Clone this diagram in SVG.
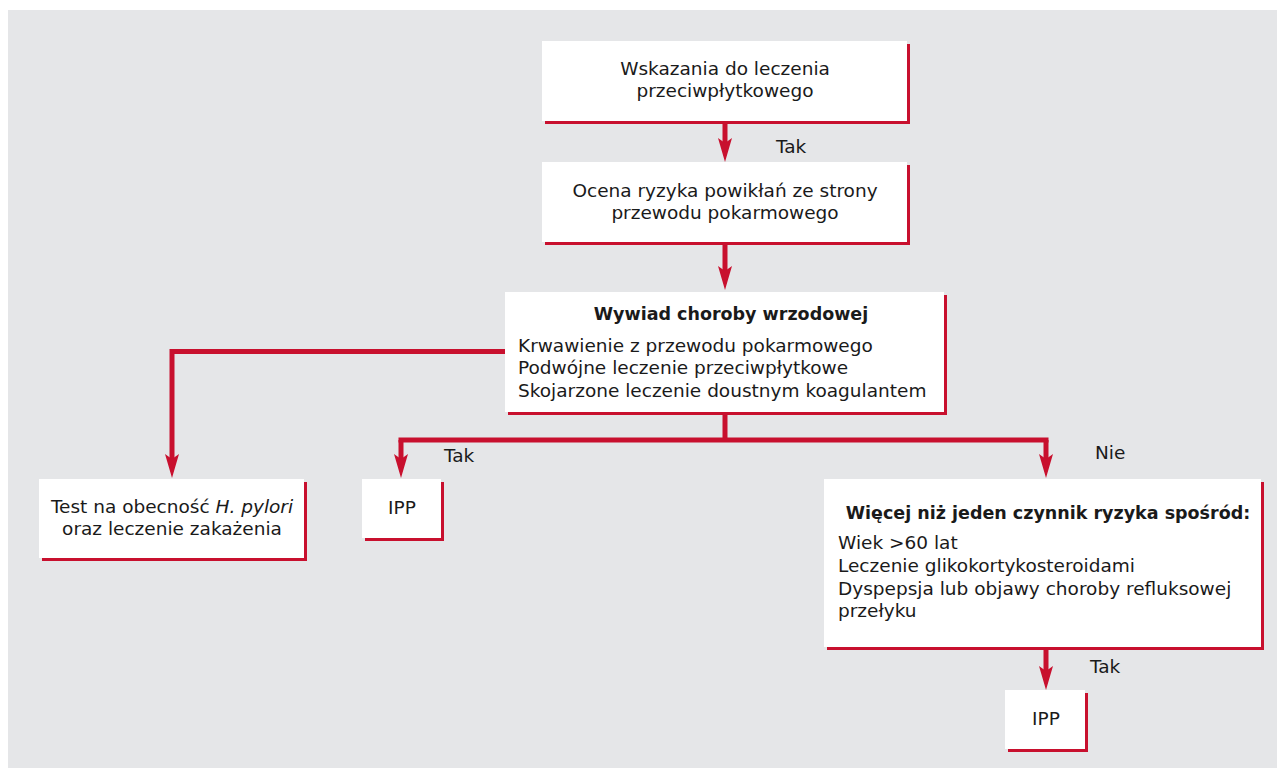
<svg xmlns="http://www.w3.org/2000/svg" width="1277" height="768" viewBox="0 0 1277 768">
<style>
.bg{fill:#e5e6e8}
.sh{fill:#c8102e}
.bx{fill:#ffffff}
.t{font-family:"DejaVu Sans","Open Sans","Liberation Sans",sans-serif;font-size:18.5px;fill:#1a1a1a}
.b{font-weight:bold;font-size:17.5px}
.c{text-anchor:middle}
.ln{fill:none;stroke:#c8102e;stroke-width:5}
</style>
<defs>
<marker id="ah" viewBox="0 0 24 14" refX="14" refY="7" markerWidth="24" markerHeight="14" markerUnits="userSpaceOnUse" orient="auto">
<path d="M0,0 L24,7 L0,14 L5,7 Z" fill="#c8102e"/>
</marker>
</defs>
<rect class="bg" x="8" y="10" width="1269" height="758"/>
<g id="connectors">
<path class="ln" d="M725,121 V152" marker-end="url(#ah)"/>
<path class="ln" d="M725,242 V280" marker-end="url(#ah)"/>
<path class="ln" d="M505,351.5 H172 V468" marker-end="url(#ah)"/>
<path class="ln" d="M725,412 V440"/>
<path class="ln" d="M398.5,440 H1048.5"/>
<path class="ln" d="M401,440 V468" marker-end="url(#ah)"/>
<path class="ln" d="M1046,440 V468" marker-end="url(#ah)"/>
<path class="ln" d="M1046,647 V680" marker-end="url(#ah)"/>
<text class="t" x="776" y="153">Tak</text>
<text class="t" x="444" y="462">Tak</text>
<text class="t" x="1095" y="459">Nie</text>
<text class="t" x="1090" y="673">Tak</text>
</g>
<g id="n1">
<rect class="sh" x="545" y="44" width="365" height="80"/>
<rect class="bx" x="542" y="41" width="365" height="80"/>
<text class="t c" x="725" y="75">Wskazania do leczenia</text>
<text class="t c" x="725" y="97">przeciwpłytkowego</text>
</g>
<g id="n2">
<rect class="sh" x="545" y="165" width="365" height="80"/>
<rect class="bx" x="542" y="162" width="365" height="80"/>
<text class="t c" x="725" y="197">Ocena ryzyka powikłań ze strony</text>
<text class="t c" x="725" y="219">przewodu pokarmowego</text>
</g>
<g id="n3">
<rect class="sh" x="508" y="295" width="439" height="120"/>
<rect class="bx" x="505" y="292" width="439" height="120"/>
<text class="t b c" x="731" y="320">Wywiad choroby wrzodowej</text>
<text class="t" x="518" y="352">Krwawienie z przewodu pokarmowego</text>
<text class="t" x="518" y="374">Podwójne leczenie przeciwpłytkowe</text>
<text class="t" x="518" y="397">Skojarzone leczenie doustnym koagulantem</text>
</g>
<g id="n4">
<rect class="sh" x="42" y="482" width="265" height="79"/>
<rect class="bx" x="39" y="479" width="265" height="79"/>
<text class="t c" x="172" y="513">Test na obecność <tspan font-style="italic">H. pylori</tspan></text>
<text class="t c" x="172" y="535">oraz leczenie zakażenia</text>
</g>
<g id="n5">
<rect class="sh" x="365" y="482" width="79" height="59"/>
<rect class="bx" x="362" y="479" width="79" height="59"/>
<text class="t c" x="402" y="514">IPP</text>
</g>
<g id="n6">
<rect class="sh" x="827" y="482" width="437" height="168"/>
<rect class="bx" x="824" y="479" width="437" height="168"/>
<text class="t b c" x="1048" y="519">Więcej niż jeden czynnik ryzyka spośród:</text>
<text class="t" x="838" y="549">Wiek &gt;60 lat</text>
<text class="t" x="838" y="572">Leczenie glikokortykosteroidami</text>
<text class="t" x="838" y="595">Dyspepsja lub objawy choroby refluksowej</text>
<text class="t" x="838" y="617">przełyku</text>
</g>
<g id="n7">
<rect class="sh" x="1008" y="693" width="80" height="59"/>
<rect class="bx" x="1005" y="690" width="80" height="59"/>
<text class="t c" x="1046" y="725">IPP</text>
</g>
</svg>
